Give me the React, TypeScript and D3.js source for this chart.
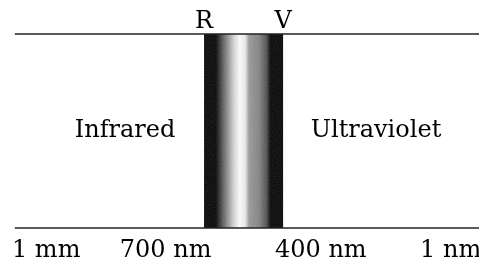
import * as d3 from "d3";

// wavelength labels along the bottom edge
const wavelengthLabels = ["1 mm", "700 nm", "400 nm", "1 nm"];
// region names
const regionLabels = ["Infrared", "Ultraviolet"];
// band edge markers
const edgeLabels = ["R", "V"];
// grey level across the visible band (0 = black, 1 = white)
const bandOffsets = [0, 0.15, 0.25, 0.38, 0.45, 0.52, 0.57, 0.7, 0.79, 0.84, 1];
const bandGrey = [0, 0, 0.4, 0.85, 1, 0.93, 0.6, 0.5, 0.3, 0, 0];

const W = 479;
const H = 266;

// layout in a 0..100 nominal axis
const labelAnchors = [2.5, 25, 57.4, 87.7];
const regionCenters = [26.1, 78.5];
const bandRange = [42.6, 59.1];
const lineStart = 3.1;

export default function App() {
  const x = d3.scaleLinear().domain([0, 100]).range([0, W]);
  const y = { top: 34, bottom: 228 };
  const grey = d3.interpolateRgb("#000", "#fff");
  const font = "'DejaVu Serif', serif";
  const bx0 = x(bandRange[0]);
  const bx1 = x(bandRange[1]);

  return (
    <svg
      width={W}
      height={H}
      style={{ position: "fixed", left: 0, top: 0, background: "#fff" }}
    >
      <defs>
        <linearGradient id="band" x1="0" x2="1" y1="0" y2="0">
          {bandOffsets.map((o, i) => (
            <stop key={i} offset={o} stopColor={grey(bandGrey[i])} />
          ))}
        </linearGradient>
        <filter id="grain" x="0" y="0" width="100%" height="100%">
          <feTurbulence type="fractalNoise" baseFrequency="0.9" numOctaves={1} seed={3} />
          <feColorMatrix type="saturate" values="0" />
        </filter>
        <clipPath id="bandClip">
          <rect x={bx0} y={y.top} width={bx1 - bx0} height={y.bottom - y.top} />
        </clipPath>
      </defs>
      <rect x={bx0} y={y.top} width={bx1 - bx0} height={y.bottom - y.top} fill="url(#band)" />
      <g clipPath="url(#bandClip)" opacity={0.22}>
        <rect
          x={bx0}
          y={y.top}
          width={bx1 - bx0}
          height={y.bottom - y.top}
          filter="url(#grain)"
          style={{ mixBlendMode: "multiply" }}
        />
      </g>
      <line x1={x(lineStart)} x2={W} y1={y.top} y2={y.top} stroke="#222" strokeWidth={1.5} />
      <line x1={x(lineStart)} x2={W} y1={y.bottom} y2={y.bottom} stroke="#222" strokeWidth={1.5} />
      {edgeLabels.map((t, i) => (
        <text key={t} x={i === 0 ? bx0 : bx1} y={28} textAnchor="middle" fontFamily={font} fontSize={24} fill="#000">
          {t}
        </text>
      ))}
      {regionLabels.map((t, i) => (
        <text key={t} x={x(regionCenters[i])} y={137} textAnchor="middle" fontFamily={font} fontSize={24} fill="#000">
          {t}
        </text>
      ))}
      {wavelengthLabels.map((t, i) => (
        <text key={t} x={x(labelAnchors[i])} y={257} fontFamily={font} fontSize={24} fill="#000">
          {t}
        </text>
      ))}
    </svg>
  );
}
